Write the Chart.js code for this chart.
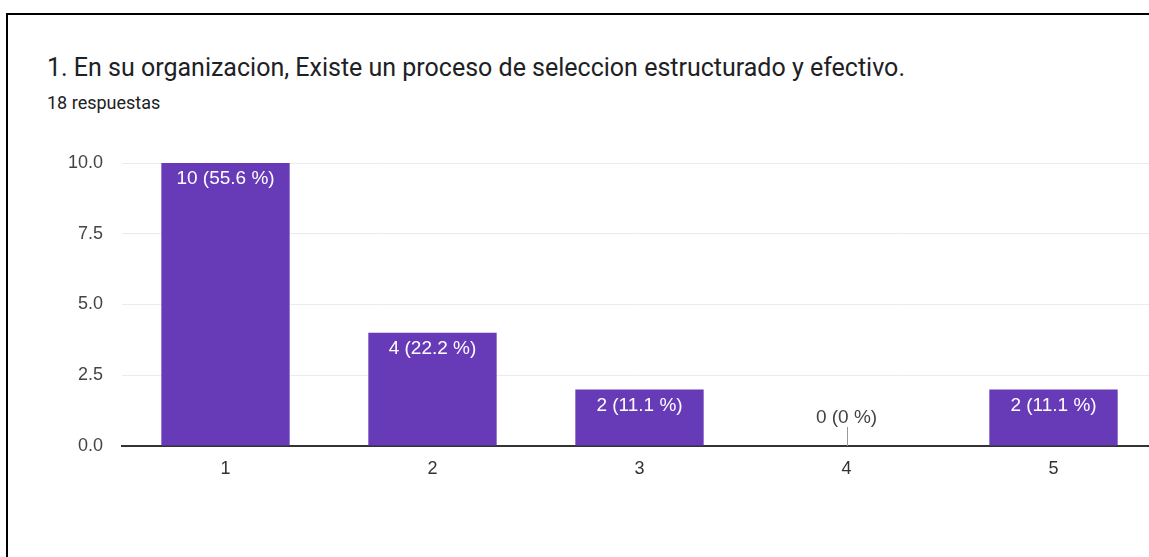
<!DOCTYPE html>
<html>
<head>
<meta charset="utf-8">
<script src="https://cdn.jsdelivr.net/npm/chart.js@4/dist/chart.umd.min.js"></script>
<style>
  html, body { margin: 0; padding: 0; width: 1149px; height: 557px; overflow: hidden; background: #fff; }
  #frame { position: absolute; left: 6px; top: 13px; width: 1200px; height: 600px; border: 2px solid #000; box-sizing: border-box; }
  #title { position: absolute; left: 47px; top: 0px; line-height: 1; font-family: Roboto, sans-serif; font-size: 25px; color: #202124; white-space: nowrap; }
  #sub { position: absolute; left: 47px; top: 0px; line-height: 1; font-family: Roboto, sans-serif; font-size: 18px; color: #202124; white-space: nowrap; }
  #wrap { position: absolute; left: 0; top: 0; width: 1157px; height: 557px; }
</style>
</head>
<body>
<div id="frame"></div>
<div id="title">1. En su organizacion, Existe un proceso de seleccion estructurado y efectivo.</div>
<div id="sub">18 respuestas</div>
<div id="wrap"><canvas id="c" width="1157" height="557"></canvas></div>
<script>
const categories = ["1", "2", "3", "4", "5"];
const counts = [10, 4, 2, 0, 2];
const percentLabels = ["55.6", "22.2", "11.1", "0", "11.1"];
const yTicks = [0, 2.5, 5, 7.5, 10];

// place title baselines: title baseline ~77, subtitle baseline ~109
(function () {
  const t = document.getElementById('title');
  const s = document.getElementById('sub');
  // Roboto ascent ~0.93em with line-height 1 -> baseline approx top + 0.93*size - small offset
  t.style.top = (77 - Math.round(25 * 0.86)) + 'px';
  s.style.top = (109 - Math.round(18 * 0.86)) + 'px';
})();

const labelPlugin = {
  id: 'barLabels',
  afterDatasetsDraw(chart) {
    const ctx = chart.ctx;
    const meta = chart.getDatasetMeta(0);
    ctx.save();
    ctx.font = '19px "Liberation Sans", Arial, sans-serif';
    ctx.textAlign = 'center';
    ctx.textBaseline = 'middle';
    meta.data.forEach((bar, i) => {
      const txt = counts[i] + ' (' + percentLabels[i] + ' %)';
      if (counts[i] > 0) {
        ctx.fillStyle = '#ffffff';
        ctx.fillText(txt, bar.x, bar.y + 16);
      } else {
        const base = chart.scales.y.getPixelForValue(0);
        ctx.fillStyle = '#444444';
        ctx.fillText(txt, bar.x, base - 28);
        ctx.strokeStyle = '#999999';
        ctx.lineWidth = 1;
        ctx.beginPath();
        ctx.moveTo(Math.round(bar.x) + 0.5, base - 19);
        ctx.lineTo(Math.round(bar.x) + 0.5, base);
        ctx.stroke();
      }
    });
    ctx.restore();
  }
};

new Chart(document.getElementById('c'), {
  type: 'bar',
  data: {
    labels: categories,
    datasets: [{
      data: counts,
      backgroundColor: '#673ab7',
      borderWidth: 0,
      categoryPercentage: 1,
      barPercentage: 0.62
    }]
  },
  options: {
    responsive: false,
    animation: false,
    layout: { padding: { top: 163, left: 0, right: 0, bottom: 0 } },
    plugins: { legend: { display: false }, tooltip: { enabled: false }, title: { display: false } },
    scales: {
      x: {
        offset: true,
        grid: { display: false, drawTicks: false },
        border: { display: true, color: '#333333', width: 2 },
        ticks: { color: '#333333', padding: 12, font: { family: '"Liberation Sans", Arial, sans-serif', size: 18 } },
        afterFit(s) { s.height = 111; }
      },
      y: {
        min: 0, max: 10,
        afterBuildTicks(s) { s.ticks = yTicks.map(v => ({ value: v })); },
        grid: { color: '#ebebeb', lineWidth: 1, drawTicks: false },
        border: { display: false },
        ticks: { color: '#444444', padding: 19, font: { family: '"Liberation Sans", Arial, sans-serif', size: 18 }, callback: v => Number(v).toFixed(1) },
        afterFit(s) { s.width = 122; }
      }
    }
  },
  plugins: [labelPlugin]
});
</script>
</body>
</html>
